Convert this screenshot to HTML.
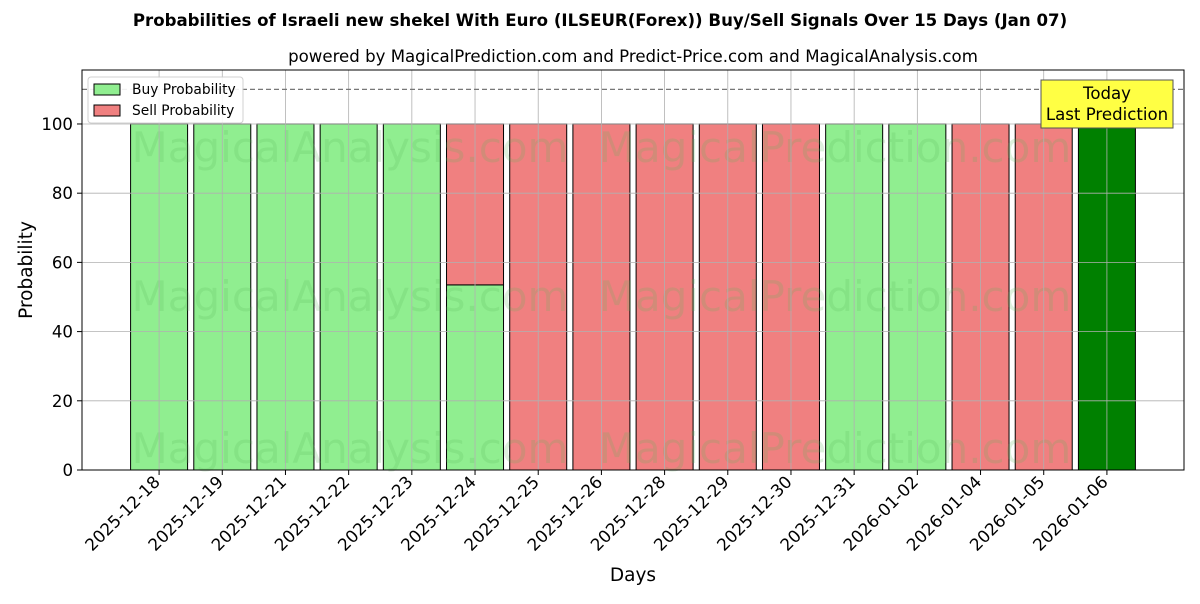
<!DOCTYPE html>
<html><head><meta charset="utf-8"><style>
body{margin:0;background:#fff;font-family:"DejaVu Sans","Liberation Sans",sans-serif;}
</style></head><body>
<svg width="1200" height="600" xmlns="http://www.w3.org/2000/svg" font-family="DejaVu Sans, Liberation Sans, sans-serif">
<text x="600" y="26" text-anchor="middle" font-size="16.6" font-weight="bold">Probabilities of Israeli new shekel With Euro (ILSEUR(Forex)) Buy/Sell Signals Over 15 Days (Jan 07)</text>
<text x="633" y="62" text-anchor="middle" font-size="16.6">powered by MagicalPrediction.com and Predict-Price.com and MagicalAnalysis.com</text>
<g id="plot"></g>
<rect x="82" y="70" width="1102" height="400" fill="none" stroke="#000" stroke-width="1"/>
<text x="32" y="270" text-anchor="middle" font-size="18.5" transform="rotate(-90 32 270)">Probability</text>
<text x="633" y="581" text-anchor="middle" font-size="18.5">Days</text>
<g>
<rect x="88" y="77" width="155" height="46" fill="#fff" stroke="#ccc" rx="3" opacity="0.9"/>
<rect x="94" y="84" width="26" height="11" fill="#90EE90" stroke="#000"/>
<text x="132" y="94" font-size="13.8">Buy Probability</text>
<rect x="94" y="105" width="26" height="11" fill="#F08080" stroke="#000"/>
<text x="132" y="115" font-size="13.8">Sell Probability</text>
</g>
<g>
<rect x="1041" y="80" width="132" height="48" fill="#FFFF44" stroke="#555"/>
<text x="1107" y="99" text-anchor="middle" font-size="16.6">Today</text>
<text x="1107" y="120" text-anchor="middle" font-size="16.6">Last Prediction</text>
</g>
</svg>
<script>
const categories=["2025-12-18","2025-12-19","2025-12-21","2025-12-22","2025-12-23","2025-12-24","2025-12-25","2025-12-26","2025-12-28","2025-12-29","2025-12-30","2025-12-31","2026-01-02","2026-01-04","2026-01-05","2026-01-06"];
const buyValues=[100,100,100,100,100,53.5,0,0,0,0,0,100,100,0,0,100];
const sellValues=[0,0,0,0,0,46.5,100,100,100,100,100,0,0,100,100,0];
const yTicks=[0,20,40,60,80,100];
const NS="http://www.w3.org/2000/svg";
const g=document.getElementById('plot');
const X0=82,X1=1184,Y0=470,Y1=70,xmin=-1.22,xmax=16.22,ymin=0,ymax=115.6;
const xs=i=>X0+(i-xmin)/(xmax-xmin)*(X1-X0);
const ys=v=>Y0-(v-ymin)/(ymax-ymin)*(Y0-Y1);
const bw=57/((X1-X0)/(xmax-xmin));
function el(t,a){const e=document.createElementNS(NS,t);for(const k in a)e.setAttribute(k,a[k]);g.appendChild(e);return e;}
categories.forEach((c,i)=>{
  const last=i===categories.length-1;
  const x=xs(i-bw/2),w=xs(i+bw/2)-x;
  if(buyValues[i]>0){const r=el('rect',{x:x,y:ys(buyValues[i]),width:w,height:ys(0)-ys(buyValues[i]),fill:last?'#008000':'#90EE90',stroke:'#000','stroke-width':1});
    
    }
  if(sellValues[i]>0){const r=el('rect',{x:x,y:ys(buyValues[i]+sellValues[i]),width:w,height:ys(buyValues[i])-ys(buyValues[i]+sellValues[i]),fill:'#F08080',stroke:'#000','stroke-width':1});
    
    }
});
[[350,162],[835,162],[350,311],[835,311],[350,463],[835,463]].forEach((p,k)=>{
  const t=el('text',{x:p[0],y:p[1],'text-anchor':'middle','font-size':42,fill:'#5cb85c',opacity:0.2});
  t.textContent=k%2?'MagicalPrediction.com':'MagicalAnalysis.com';
  
  
});
yTicks.forEach(v=>{
  const l=el('line',{x1:X0,x2:X1,y1:ys(v),y2:ys(v),stroke:'#b0b0b0','stroke-width':0.8});
  
  
  const tk=el('line',{x1:X0-5,x2:X0,y1:ys(v),y2:ys(v),stroke:'#000'});
  
  
  const t=el('text',{x:X0-9,y:ys(v)+6,'text-anchor':'end','font-size':16.6});
  t.textContent=v;
  
  
});
categories.forEach((c,i)=>{
  const x=xs(i);
  const l=el('line',{x1:x,x2:x,y1:Y1,y2:Y0,stroke:'#b0b0b0','stroke-width':0.8});
  
  
  const tk=el('line',{x1:x,x2:x,y1:Y0,y2:Y0+5,stroke:'#000'});
  
  
  const t=el('text',{x:x+2,y:Y0+13,'text-anchor':'end','font-size':16.8,transform:`rotate(-45 ${x+2} ${Y0+13})`});
  t.textContent=c;
  
  
});
const d=el('line',{x1:X0,x2:X1,y1:ys(110),y2:ys(110),stroke:'#777','stroke-dasharray':'5,3','stroke-width':1.2});


</script>
</body></html>
